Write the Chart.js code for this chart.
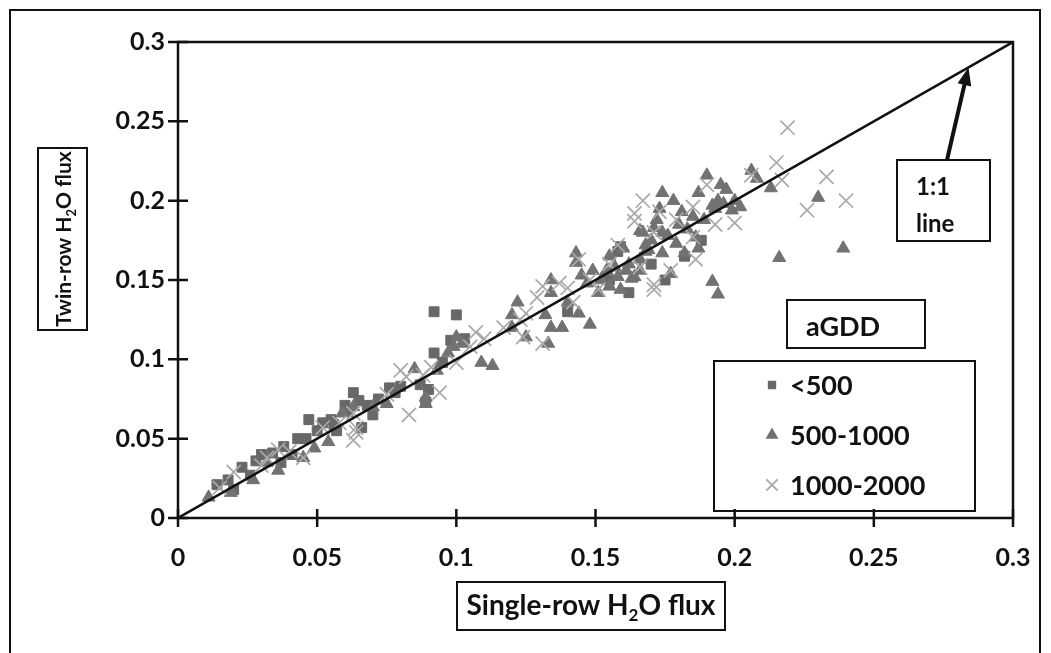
<!DOCTYPE html>
<html><head><meta charset="utf-8">
<script src="https://cdn.jsdelivr.net/npm/chart.js@4.4.0/dist/chart.umd.min.js"></script>
<style>body{margin:0;background:#fff}</style>
</head>
<body>
<canvas id="c" width="1051" height="653"></canvas>
<script>
// single-row flux (x) vs twin-row flux (y), grouped by aGDD
const groupNames = ['<500', '500-1000', '1000-2000'];
const tickLabels = ['0', '0.05', '0.1', '0.15', '0.2', '0.25', '0.3'];

const gddLow = [
  [0.014,0.021],[0.018,0.024],[0.020,0.018],[0.023,0.032],[0.026,0.027],[0.028,0.036],[0.030,0.040],
  [0.034,0.041],[0.037,0.035],[0.038,0.045],[0.041,0.040],[0.043,0.050],[0.046,0.050],[0.047,0.062],
  [0.050,0.055],[0.052,0.060],[0.055,0.062],[0.056,0.059],[0.057,0.055],[0.060,0.071],[0.061,0.067],
  [0.063,0.079],[0.065,0.074],[0.066,0.057],[0.068,0.071],[0.070,0.065],[0.072,0.075],[0.076,0.082],
  [0.078,0.079],[0.080,0.083],[0.087,0.084],[0.089,0.073],[0.090,0.081],[0.092,0.104],[0.092,0.130],
  [0.095,0.098],[0.100,0.128],[0.098,0.112],[0.103,0.113],[0.140,0.130],[0.155,0.150],[0.158,0.168],
  [0.159,0.171],[0.162,0.142],[0.170,0.160],[0.175,0.150],[0.182,0.165],[0.188,0.175]
];
const gddMid = [
  [0.011,0.013],[0.019,0.016],[0.027,0.024],[0.032,0.035],[0.036,0.030],[0.045,0.038],[0.049,0.044],
  [0.054,0.048],[0.059,0.066],[0.063,0.070],[0.070,0.070],[0.075,0.072],[0.085,0.094],[0.089,0.076],
  [0.089,0.072],[0.093,0.093],[0.097,0.104],[0.099,0.108],[0.100,0.114],[0.102,0.110],[0.109,0.098],
  [0.113,0.096],[0.120,0.120],[0.120,0.128],[0.122,0.136],[0.125,0.114],[0.132,0.128],[0.133,0.110],
  [0.134,0.150],[0.134,0.142],[0.134,0.120],[0.138,0.120],[0.140,0.136],[0.143,0.167],[0.143,0.161],
  [0.144,0.129],[0.145,0.153],[0.147,0.148],[0.148,0.122],[0.149,0.156],[0.151,0.142],[0.152,0.150],
  [0.154,0.156],[0.155,0.146],[0.155,0.165],[0.157,0.158],[0.158,0.152],[0.159,0.144],[0.160,0.170],
  [0.161,0.156],[0.162,0.160],[0.163,0.151],[0.164,0.152],[0.166,0.156],[0.166,0.163],[0.166,0.181],
  [0.167,0.180],[0.168,0.168],[0.168,0.172],[0.169,0.169],[0.170,0.175],[0.171,0.183],[0.172,0.188],
  [0.173,0.195],[0.174,0.205],[0.174,0.180],[0.174,0.167],[0.176,0.178],[0.177,0.154],[0.178,0.200],
  [0.179,0.173],[0.180,0.185],[0.181,0.193],[0.182,0.167],[0.183,0.182],[0.185,0.190],[0.186,0.177],
  [0.187,0.170],[0.187,0.205],[0.189,0.188],[0.190,0.216],[0.192,0.197],[0.192,0.149],[0.193,0.195],
  [0.194,0.200],[0.194,0.141],[0.195,0.210],[0.196,0.198],[0.197,0.207],[0.199,0.194],[0.200,0.200],
  [0.202,0.196],[0.206,0.219],[0.208,0.214],[0.213,0.208],[0.216,0.164],[0.230,0.202],[0.239,0.170]
];
const gddHigh = [
  [0.015,0.019],[0.020,0.029],[0.030,0.033],[0.032,0.038],[0.036,0.043],[0.040,0.042],[0.045,0.038],
  [0.052,0.057],[0.058,0.060],[0.063,0.049],[0.064,0.057],[0.063,0.066],[0.064,0.054],[0.075,0.078],
  [0.080,0.093],[0.082,0.089],[0.083,0.065],[0.088,0.090],[0.091,0.095],[0.094,0.079],[0.100,0.098],
  [0.105,0.108],[0.107,0.117],[0.110,0.113],[0.117,0.120],[0.123,0.125],[0.124,0.114],[0.125,0.129],
  [0.129,0.139],[0.131,0.146],[0.131,0.110],[0.137,0.148],[0.140,0.145],[0.142,0.136],[0.144,0.163],
  [0.148,0.150],[0.151,0.144],[0.155,0.160],[0.158,0.172],[0.164,0.192],[0.164,0.187],[0.166,0.158],
  [0.167,0.200],[0.171,0.180],[0.171,0.147],[0.171,0.144],[0.173,0.193],[0.177,0.156],[0.179,0.188],
  [0.185,0.196],[0.185,0.177],[0.186,0.163],[0.190,0.210],[0.193,0.185],[0.200,0.186],[0.206,0.216],
  [0.215,0.224],[0.217,0.213],[0.219,0.246],[0.226,0.194],[0.233,0.215],[0.240,0.200]
];
const oneToOne = [[0, 0], [0.3, 0.3]];

const pts = a => a.map(p => ({x: p[0], y: p[1]}));
const FONT = 'Lato, "Open Sans", sans-serif';

// draw "A H2O B" with a subscript 2, centred on cx
function subText(ctx, pre, sub, post, cx, cy, size) {
  const big = 'bold ' + size + 'px ' + FONT;
  const small = 'bold ' + Math.round(size * 0.62) + 'px ' + FONT;
  ctx.font = big;
  const w1 = ctx.measureText(pre).width, w3 = ctx.measureText(post).width;
  ctx.font = small;
  const w2 = ctx.measureText(sub).width;
  let x = cx - (w1 + w2 + w3) / 2;
  ctx.textAlign = 'left';
  ctx.textBaseline = 'alphabetic';
  ctx.font = big;
  ctx.fillText(pre, x, cy);
  x += w1;
  ctx.font = small;
  ctx.fillText(sub, x, cy + size * 0.22);
  x += w2;
  ctx.font = big;
  ctx.fillText(post, x, cy);
}

const decor = {
  id: 'decor',
  afterDraw(chart) {
    const {ctx, chartArea: a, scales: {x, y}} = chart;
    ctx.save();
    ctx.strokeStyle = '#111';
    ctx.fillStyle = '#111';

    // outer frame
    ctx.lineWidth = 2;
    ctx.strokeRect(10, 10, 1030, 700);

    // plot box and crossing tick marks
    ctx.lineWidth = 2.5;
    ctx.strokeRect(a.left, a.top, a.right - a.left, a.bottom - a.top);
    ctx.beginPath();
    x.ticks.forEach((t, i) => {
      const px = x.getPixelForTick(i);
      ctx.moveTo(px, a.bottom - 9); ctx.lineTo(px, a.bottom + 9);
    });
    y.ticks.forEach((t, i) => {
      const py = y.getPixelForTick(i);
      ctx.moveTo(a.left - 10, py); ctx.lineTo(a.left + 10, py);
    });
    ctx.stroke();

    // axis titles in boxes
    ctx.lineWidth = 2;
    ctx.strokeRect(457, 582, 268, 48);
    subText(ctx, 'Single-row H', '2', 'O flux', 591, 615, 28);
    ctx.strokeRect(38, 148, 49, 182);
    ctx.save();
    ctx.translate(71, 239);
    ctx.rotate(-Math.PI / 2);
    subText(ctx, 'Twin-row H', '2', 'O flux', 0, 0, 21);
    ctx.restore();

    // legend
    ctx.strokeRect(787, 300, 138, 48);
    ctx.font = 'bold 27px ' + FONT;
    ctx.textAlign = 'left';
    ctx.textBaseline = 'middle';
    ctx.fillText('aGDD', 806, 327);
    ctx.strokeRect(714, 361, 261, 150);
    const order = [3, 2, 1];
    const sizes = [4.5, 5.5, 8];
    order.forEach((di, k) => {
      const ds = chart.data.datasets[di];
      const cy = 385 + k * 50;
      ctx.save();
      ctx.fillStyle = ds.backgroundColor;
      ctx.strokeStyle = ds.borderColor;
      Chart.helpers.drawPoint(ctx, {pointStyle: ds.pointStyle, radius: sizes[k], rotation: 0, borderWidth: ds.pointBorderWidth || 1}, 772, cy);
      ctx.restore();
      ctx.font = 'bold 27px ' + FONT;
      ctx.textBaseline = 'middle';
      ctx.fillText(ds.label, 790, cy + 1);
    });

    // 1:1 line callout with arrow to the line
    ctx.strokeRect(897, 160, 93, 81);
    ctx.font = 'bold 24px ' + FONT;
    ctx.textBaseline = 'middle';
    ctx.fillText('1:1', 916, 187);
    ctx.fillText('line', 916, 224);
    const tx = x.getPixelForValue(0.284), ty = y.getPixelForValue(0.284);
    const sx = 947, sy = 160;
    const ang = Math.atan2(ty - sy, tx - sx);
    ctx.lineWidth = 4;
    ctx.beginPath();
    ctx.moveTo(sx, sy);
    ctx.lineTo(tx - Math.cos(ang) * 14, ty - Math.sin(ang) * 14);
    ctx.stroke();
    ctx.beginPath();
    ctx.moveTo(tx, ty);
    ctx.lineTo(tx - Math.cos(ang) * 18 + Math.sin(ang) * 7, ty - Math.sin(ang) * 18 - Math.cos(ang) * 7);
    ctx.lineTo(tx - Math.cos(ang) * 18 - Math.sin(ang) * 7, ty - Math.sin(ang) * 18 + Math.cos(ang) * 7);
    ctx.closePath();
    ctx.fill();
    ctx.restore();
  }
};

const axisCommon = {
  type: 'linear',
  min: 0,
  max: 0.3,
  grid: {display: false, drawTicks: false},
  border: {display: false},
  ticks: {
    stepSize: 0.05,
    color: '#111',
    font: {family: FONT, size: 25, weight: 'bold'},
    callback: (v, i) => tickLabels[i]
  }
};

new Chart(document.getElementById('c'), {
  data: {
    datasets: [
      {type: 'line', label: '1:1', data: pts(oneToOne), borderColor: '#111', borderWidth: 2.5,
       pointRadius: 0, fill: false},
      {type: 'scatter', label: groupNames[2], data: pts(gddHigh), pointStyle: 'crossRot', pointRadius: 10,
       pointBorderWidth: 1.7, borderColor: '#a9a9a9', backgroundColor: '#a9a9a9'},
      {type: 'scatter', label: groupNames[1], data: pts(gddMid), pointStyle: 'triangle', pointRadius: 7.5,
       borderColor: '#727272', backgroundColor: '#727272', pointBorderWidth: 1},
      {type: 'scatter', label: groupNames[0], data: pts(gddLow), pointStyle: 'rect', pointRadius: 7,
       borderColor: '#686868', backgroundColor: '#686868', pointBorderWidth: 1}
    ]
  },
  options: {
    responsive: false,
    devicePixelRatio: 1,
    animation: false,
    layout: {padding: {left: 10, top: 42, right: 38, bottom: 0}},
    plugins: {legend: {display: false}, tooltip: {enabled: false}},
    scales: {
      x: Object.assign({}, axisCommon, {
        position: 'bottom',
        ticks: Object.assign({}, axisCommon.ticks, {padding: 25, maxRotation: 0}),
        afterFit: s => { s.height = 135; s.paddingLeft = 0; s.paddingRight = 0; }
      }),
      y: Object.assign({}, axisCommon, {
        position: 'left',
        ticks: Object.assign({}, axisCommon.ticks, {padding: 13}),
        afterFit: s => { s.width = 168; s.paddingTop = 0; s.paddingBottom = 0; }
      })
    }
  },
  plugins: [decor]
});
</script>
</body></html>
